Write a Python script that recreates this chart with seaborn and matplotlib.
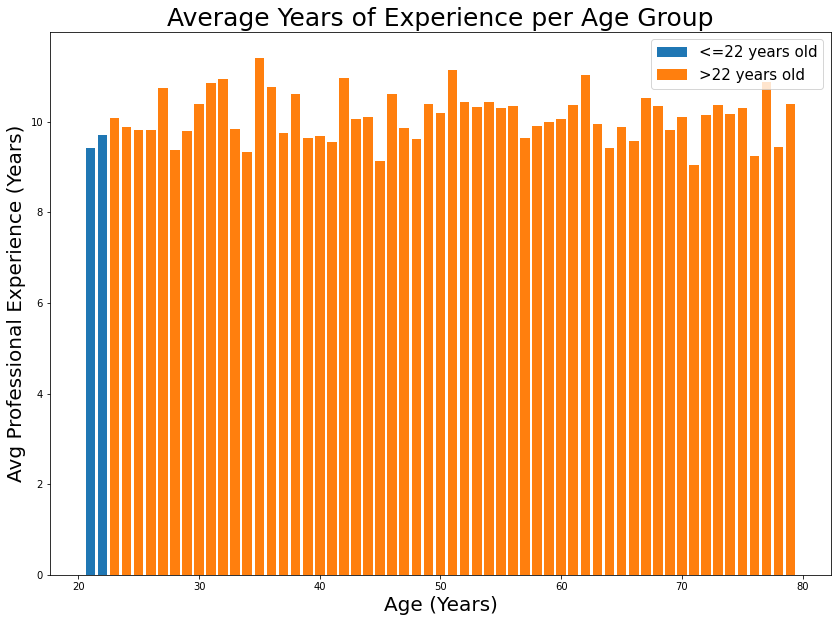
import matplotlib

matplotlib.use("Agg")

import matplotlib.pyplot as plt
import pandas as pd
import seaborn as sns

AGES = list(range(21, 80))

AVG_EXPERIENCE = [
    9.43, 9.71, 10.09, 9.89, 9.82, 9.82, 10.75, 9.38, 9.80, 10.40,
    10.86, 10.95, 9.85, 9.34, 11.41, 10.77, 9.76, 10.62, 9.65, 9.69,
    9.56, 10.97, 10.07, 10.11, 9.14, 10.62, 9.87, 9.63, 10.40, 10.20,
    11.15, 10.44, 10.33, 10.44, 10.31, 10.35, 9.65, 9.91, 10.00, 10.07,
    10.37, 11.04, 9.96, 9.43, 9.89, 9.58, 10.53, 10.35, 9.82, 10.11,
    9.05, 10.15, 10.37, 10.18, 10.31, 9.25, 10.88, 9.45, 10.40,
]

GROUP_LABELS = ["<=22 years old", ">22 years old"]
GROUP_COLORS = ["#1f77b4", "#ff7f0e"]

df = pd.DataFrame({"age": AGES, "experience": AVG_EXPERIENCE})
df["group"] = [GROUP_LABELS[0] if age <= 22 else GROUP_LABELS[1] for age in df["age"]]

fig = plt.figure(figsize=(838 / 72, 622 / 72), dpi=72)
ax = fig.add_axes([0.0597, 0.0756, 0.9319, 0.873])

sns.barplot(
    data=df,
    x="age",
    y="experience",
    hue="group",
    hue_order=GROUP_LABELS,
    palette=GROUP_COLORS,
    native_scale=True,
    dodge=False,
    errorbar=None,
    width=0.8,
    saturation=1,
    ax=ax,
)

ax.set_title("Average Years of Experience per Age Group", fontsize=25)
ax.set_xlabel("Age (Years)", fontsize=20)
ax.set_ylabel("Avg Professional Experience (Years)", fontsize=20)

handles, labels = ax.get_legend_handles_labels()
ax.legend(handles, labels, loc="upper right", fontsize=15)

fig.savefig("out.png", dpi=72)
plt.close(fig)
